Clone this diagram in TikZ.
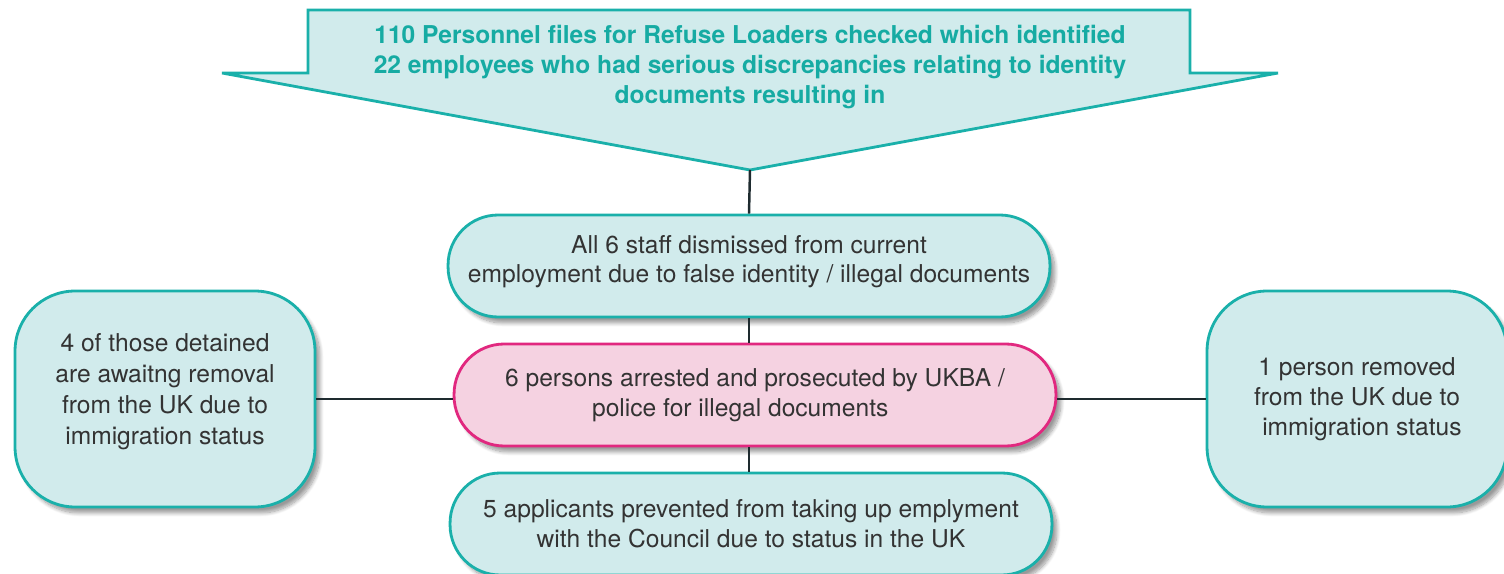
\documentclass[tikz,border=0pt]{standalone}
\usepackage{fontspec}
\setmainfont{TeX Gyre Heros}
\usetikzlibrary{shadows.blur}

\definecolor{tealline}{HTML}{1AB0AA}
\definecolor{tealfill}{HTML}{D1EBEC}
\definecolor{tealtext}{HTML}{16ABA3}
\definecolor{pinkline}{HTML}{E1287F}
\definecolor{pinkfill}{HTML}{F5D2E1}
\definecolor{ink}{HTML}{333333}
\definecolor{wire}{HTML}{1E2B2F}

\tikzstyle{pill} = [draw=tealline, fill=tealfill, line width=1.6pt, rounded corners=1cm,
    minimum width=12.04cm, minimum height=2.04cm, align=center, text=ink,
    font=\fontsize{14}{17}\selectfont,
    blur shadow={shadow xshift=1mm, shadow yshift=-1.2mm, shadow blur steps=10, shadow opacity=40}]
\tikzstyle{side} = [pill, rounded corners=1.2cm, minimum width=6cm, minimum height=4.32cm]
\tikzstyle{link} = [draw=wire, line width=1.4pt]

\begin{document}
\begin{tikzpicture}[x=0.02cm, y=-0.02cm]
\useasboundingbox (0,0) rectangle (1504,574);

% header arrow
\draw[draw=tealline, fill=tealfill, line width=1.6pt]
    (308,10) -- (1190,10) -- (1190,73) -- (1278,73) -- (750,170)
    -- (222,73) -- (308,73) -- cycle;
\coordinate (tip) at (750,170);
\node[align=center, text=tealtext, font=\bfseries\fontsize{14}{17.3}\selectfont] (head) at (750,67)
    {110 Personnel files for Refuse Loaders checked which identified\\
     22 employees who had serious discrepancies relating to identity\\
     documents resulting in};

% boxes
\node[pill] (dismiss) at (749,266)
    {All 6 staff dismissed from current\\employment due to false identity / illegal documents\\[-9pt]};
\node[pill, draw=pinkline, fill=pinkfill] (arrest) at (755,395)
    {6 persons arrested and prosecuted by UKBA /\\police for illegal documents\hspace*{1.2em}};
\node[pill] (prevent) at (751,524)
    {5 applicants prevented from taking up emplyment\\with the Council due to status in the UK};
\node[side, font=\fontsize{14}{17.6}\selectfont] (await) at (165,399)
    {4 of those detained\\are awaitng removal\\from the UK due to\\immigration status\\[-6pt]};
\node[side] (removed) at (1357,399)
    {1 person removed\\from the UK due to\\\hspace*{0.4em}immigration status};

% connectors
\draw[link] (tip) -- (dismiss.north);
\draw[link] (dismiss.south) -- (arrest.north -| dismiss.south);
\draw[link] (arrest.south -| dismiss.south) -- (prevent.north -| dismiss.south);
\draw[link] (await.east) -- (await.east -| arrest.west);
\draw[link] (removed.west -| arrest.east) -- (removed.west);
\end{tikzpicture}
\end{document}
